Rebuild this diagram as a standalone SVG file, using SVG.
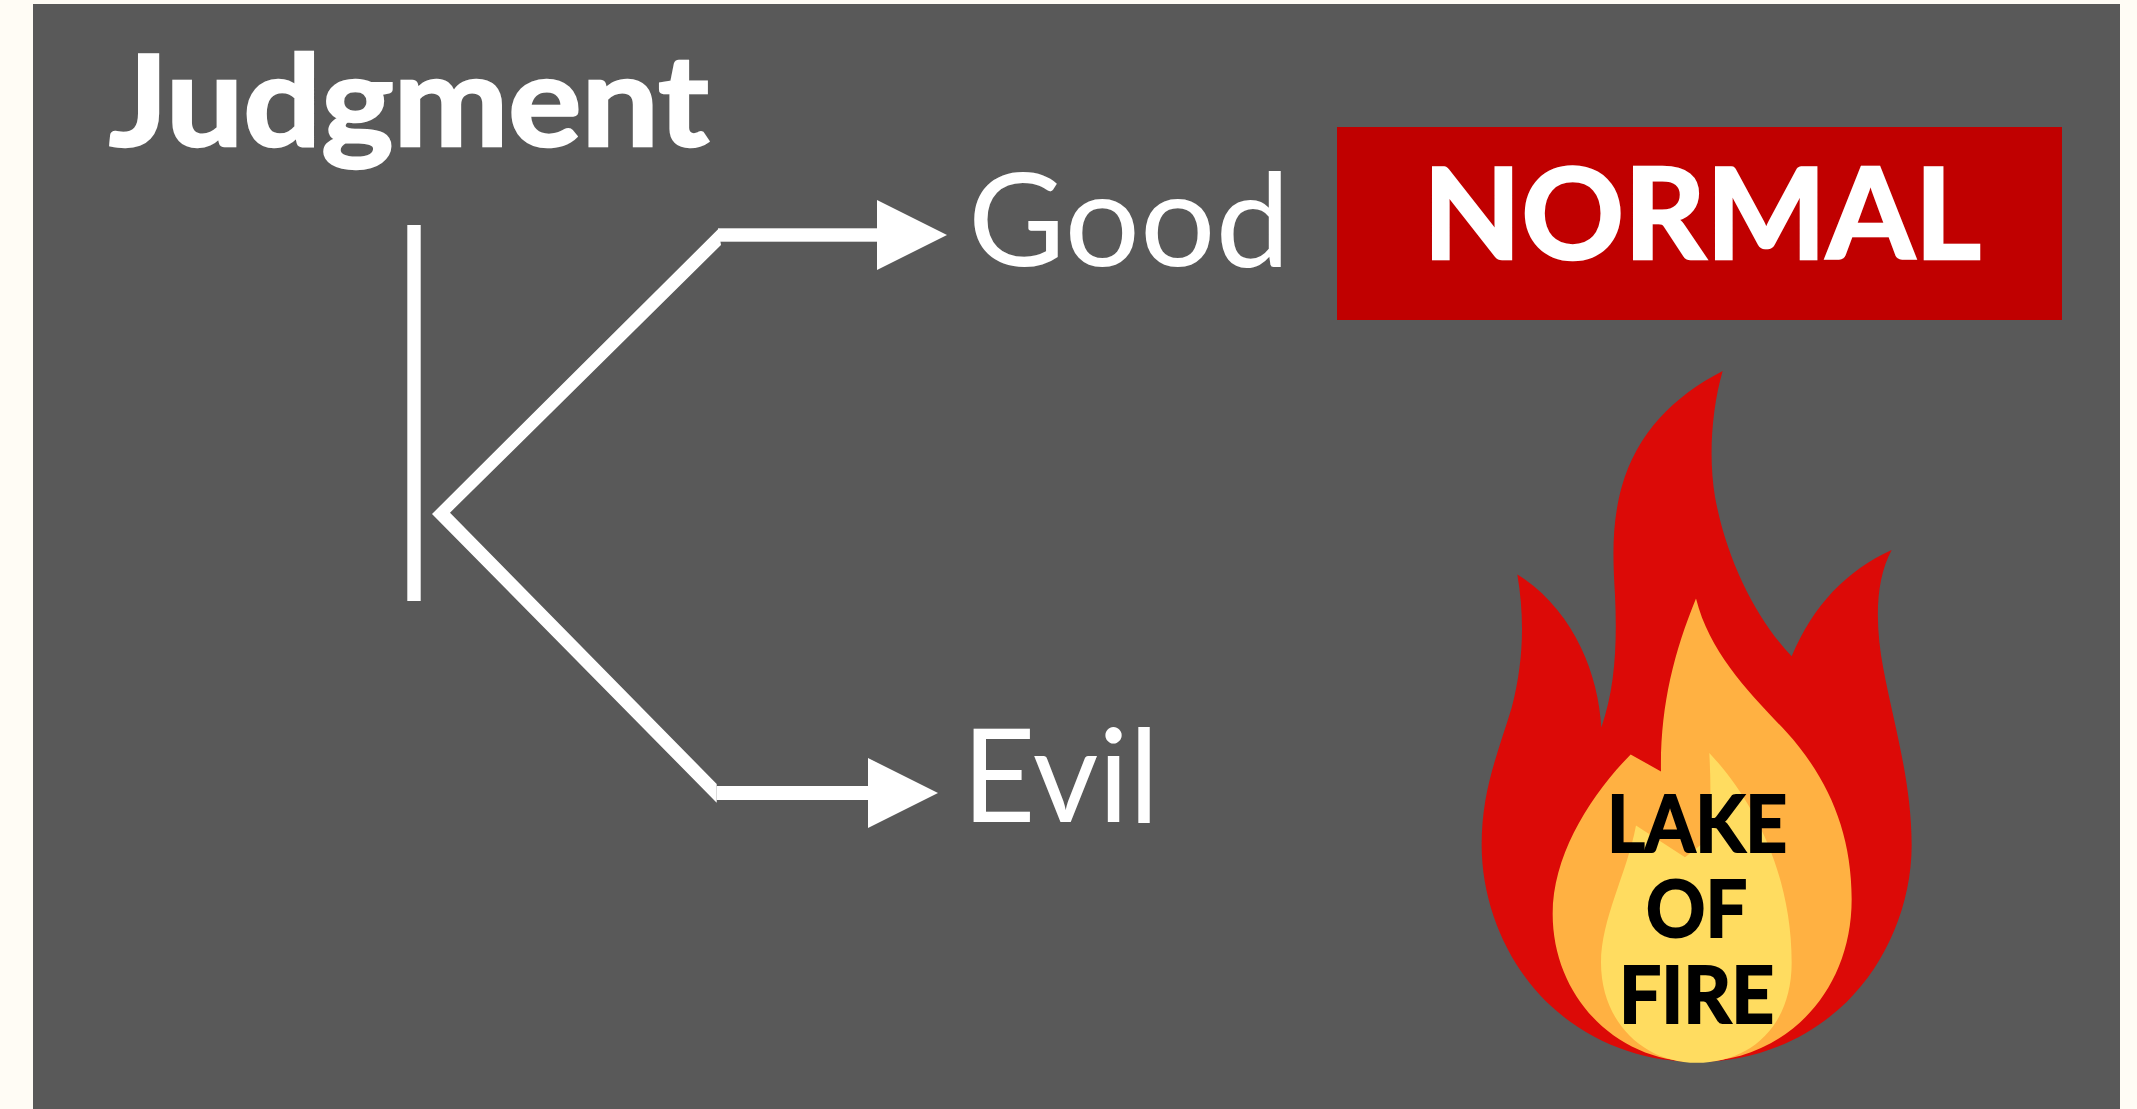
<svg xmlns="http://www.w3.org/2000/svg" width="2137" height="1109" viewBox="0 0 2137 1109">
<style>
.w{fill:#fff}
.t{font-family:Lato,"Noto Sans","Liberation Sans",sans-serif;fill:#fff}
.b{font-weight:700;stroke:#fff;stroke-width:2.5px}
.k{font-family:Lato,"Noto Sans","Liberation Sans",sans-serif;font-weight:700;font-size:78px;fill:#000;stroke:#000;stroke-width:2px}
</style>
<rect width="2137" height="1109" fill="#FFFCF5"/>
<rect x="33" y="4" width="2087" height="1105" fill="#595959"/>
<g id="title"><text class="t b" x="109" y="146" font-size="126" textLength="600" lengthAdjust="spacingAndGlyphs">Judgment</text></g>
<g id="bar"><rect class="w" x="407.3" y="225" width="13.4" height="376"/></g>
<g id="connectors">
<polygon class="w" points="718.3,229 432,514 716.7,802.7 716.7,784 450,512.7 721,245"/>
<rect class="w" x="718" y="228.3" width="159" height="13.4"/>
<polygon class="w" points="877,200 947,235 877,270"/>
<rect class="w" x="716.7" y="786" width="151.3" height="14"/>
<polygon class="w" points="868,758 938,793 868,828"/>
</g>
<g id="good"><text class="t" x="968" y="266" font-size="130" textLength="322" lengthAdjust="spacingAndGlyphs">Good</text></g>
<g id="evil"><text class="t" x="962" y="822" font-size="130" textLength="197" lengthAdjust="spacingAndGlyphs">Evil</text></g>
<g id="normal">
<rect x="1337" y="127" width="725" height="193" fill="#C00000"/>
<text class="t b" x="1423" y="259" font-size="127" textLength="558" lengthAdjust="spacingAndGlyphs">NORMAL</text>
</g>
<g id="lake-of-fire">
<g transform="translate(1440 340) scale(.33333 .4904)">
<path fill="#DC0A07" d="M848 63C700 115 590 190 545 300C515 375 518 440 525 520C532 620 525 710 484 790C475 680 400 550 232 478C255 570 250 660 215 750C170 850 125 920 125 1030C125 1150 200 1270 320 1350C450 1435 610 1472 770 1472C930 1472 1090 1435 1220 1350C1340 1270 1415 1150 1415 1030C1415 900 1360 780 1330 670C1305 580 1305 490 1355 428C1220 470 1120 540 1055 645C950 570 860 450 825 320C805 240 815 140 848 63Z"/>
<path fill="#FFB142" d="M768 527C810 640 930 720 1040 800C1160 890 1235 1000 1235 1140C1235 1340 1020 1472 770 1472C530 1472 338 1340 338 1170C338 1050 450 930 572 845L663 880C660 750 700 640 768 527Z"/>
<path fill="#FFDC60" d="M808 842C930 930 1055 1080 1055 1270C1055 1400 930 1474 770 1474C610 1474 483 1390 483 1270C483 1180 560 1090 588 990L735 1055L800 1020C815 960 812 900 808 842Z"/>
</g>
<text class="k" x="1607" y="852" textLength="180" lengthAdjust="spacingAndGlyphs">LAKE</text>
<text class="k" x="1646" y="937" textLength="101" lengthAdjust="spacingAndGlyphs">OF</text>
<text class="k" x="1619" y="1023" textLength="155" lengthAdjust="spacingAndGlyphs">FIRE</text>
</g>
</svg>
